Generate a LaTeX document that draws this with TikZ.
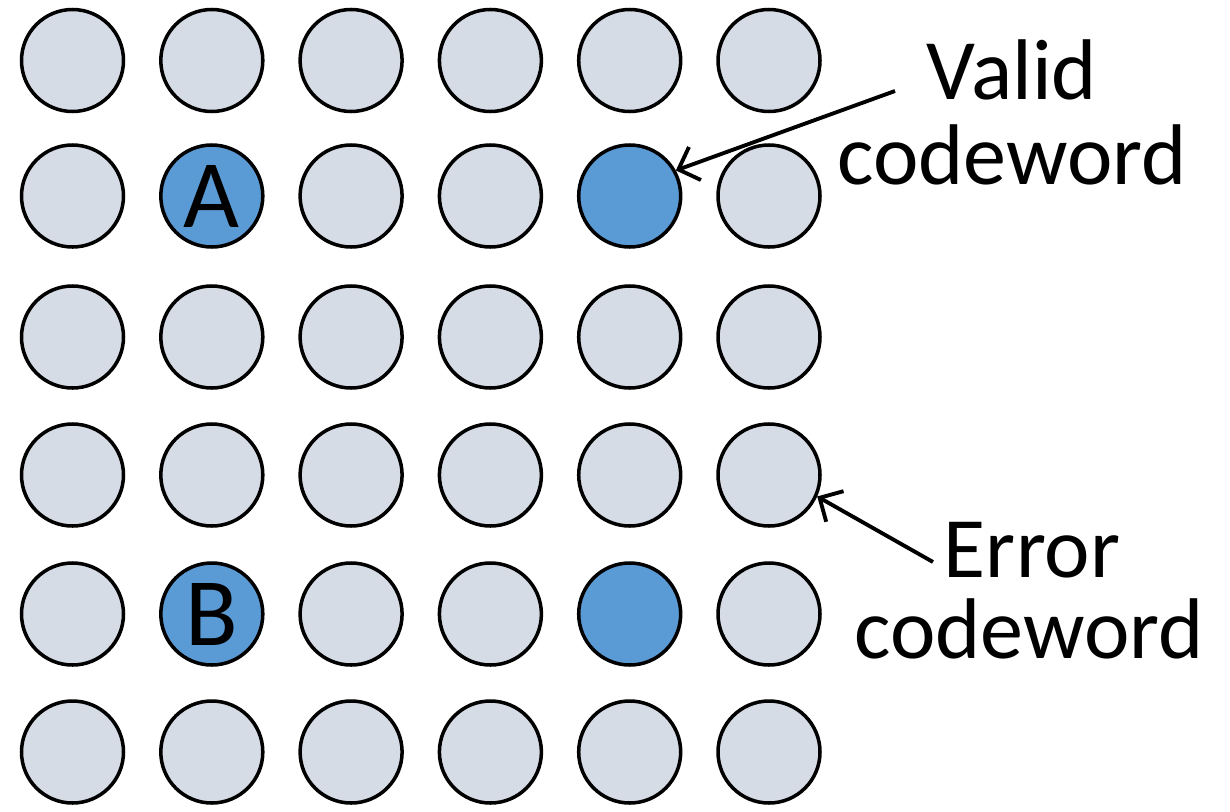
\documentclass[tikz,border=0pt]{standalone}
\usepackage{fontspec}
\setmainfont{Carlito}
\usetikzlibrary{arrows.meta}

\definecolor{dotgray}{HTML}{D6DCE5}
\definecolor{dotblue}{HTML}{5B9BD5}

\tikzset{
  dot/.style={draw, circle, line width=1pt, fill=dotgray, minimum size=1.02cm, inner sep=0pt,
    font=\fontsize{27.5}{30}\selectfont},
  codeword/.style={dot, fill=dotblue},
  lbl/.style={anchor=base, inner sep=0pt, font=\fontsize{24.5}{26}\selectfont},
  pointer/.style={-{Straight Barb[length=5pt,width=10pt]}, line width=1.1pt}
}

\begin{document}
\begin{tikzpicture}

				\useasboundingbox (0,0) rectangle (12.3,-8.11);

				% row 1
				\node [dot] (c11) at (0.725, -0.605) {};
				\node [dot] (c12) at (2.118, -0.605) {};
				\node [dot] (c13) at (3.511, -0.605) {};
				\node [dot] (c14) at (4.904, -0.605) {};
				\node [dot] (c15) at (6.297, -0.605) {};
				\node [dot] (c16) at (7.690, -0.605) {};

				% row 2
				\node [dot] (c21) at (0.725, -1.960) {};
				\node [codeword] (c22) at (2.118, -1.960) {A};
				\node [dot] (c23) at (3.511, -1.960) {};
				\node [dot] (c24) at (4.904, -1.960) {};
				\node [codeword] (c25) at (6.297, -1.960) {};
				\node [dot] (c26) at (7.690, -1.960) {};

				% row 3
				\node [dot] (c31) at (0.725, -3.370) {};
				\node [dot] (c32) at (2.118, -3.370) {};
				\node [dot] (c33) at (3.511, -3.370) {};
				\node [dot] (c34) at (4.904, -3.370) {};
				\node [dot] (c35) at (6.297, -3.370) {};
				\node [dot] (c36) at (7.690, -3.370) {};

				% row 4
				\node [dot] (c41) at (0.725, -4.750) {};
				\node [dot] (c42) at (2.118, -4.750) {};
				\node [dot] (c43) at (3.511, -4.750) {};
				\node [dot] (c44) at (4.904, -4.750) {};
				\node [dot] (c45) at (6.297, -4.750) {};
				\node [dot] (c46) at (7.690, -4.750) {};

				% row 5
				\node [dot] (c51) at (0.725, -6.140) {};
				\node [codeword] (c52) at (2.118, -6.140) {B};
				\node [dot] (c53) at (3.511, -6.140) {};
				\node [dot] (c54) at (4.904, -6.140) {};
				\node [codeword] (c55) at (6.297, -6.140) {};
				\node [dot] (c56) at (7.690, -6.140) {};

				% row 6
				\node [dot] (c61) at (0.725, -7.520) {};
				\node [dot] (c62) at (2.118, -7.520) {};
				\node [dot] (c63) at (3.511, -7.520) {};
				\node [dot] (c64) at (4.904, -7.520) {};
				\node [dot] (c65) at (6.297, -7.520) {};
				\node [dot] (c66) at (7.690, -7.520) {};

				%------
				\node [lbl] (valid) at (10.12, -0.99) {Valid};
				\node [lbl] (validcw) at (10.12, -1.84) {codeword};
				\node [lbl] (error) at (10.32, -5.77) {Error};
				\node [lbl] (errorcw) at (10.29, -6.58) {codeword};

				\coordinate (vtail) at (8.95, -0.91);
				\coordinate (etail) at (9.33, -5.62);

				\draw [pointer] (vtail) -- (c25.29);
				\draw [pointer] (etail) -- (c46.-24);
		\end{tikzpicture}
\end{document}
